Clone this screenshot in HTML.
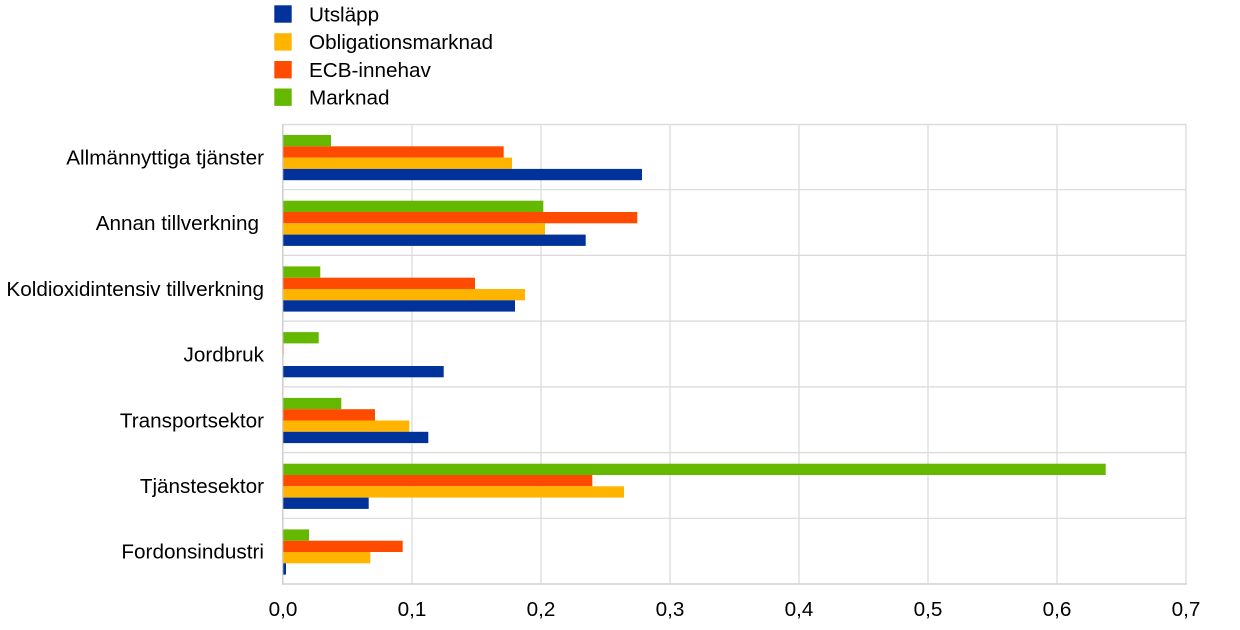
<!DOCTYPE html>
<html>
<head>
<meta charset="utf-8">
<style>
html,body{margin:0;padding:0;background:#fff;}
svg{display:block;}
text{font-family:"Liberation Sans",Arial,sans-serif;font-size:20.7px;fill:#000;}
</style>
</head>
<body>
<svg width="1240" height="630" viewBox="0 0 1240 630" xmlns="http://www.w3.org/2000/svg">
  <!-- Legend -->
  <rect x="274.3" y="5.3" width="17.4" height="17.4" fill="#003299"/>
  <text x="309" y="21.5">Utsläpp</text>
  <rect x="274.3" y="33.2" width="17.4" height="17.4" fill="#FFB400"/>
  <text x="309" y="49.2">Obligationsmarknad</text>
  <rect x="274.3" y="61" width="17.4" height="17.4" fill="#FF4B00"/>
  <text x="309" y="77">ECB-innehav</text>
  <rect x="274.3" y="88.5" width="17.4" height="17.4" fill="#65B800"/>
  <text x="309" y="104.5">Marknad</text>

  <!-- Grid -->
  <g stroke="#d9d9d9" stroke-width="1.2">
    <line x1="412" y1="124" x2="412" y2="584"/>
    <line x1="541" y1="124" x2="541" y2="584"/>
    <line x1="670" y1="124" x2="670" y2="584"/>
    <line x1="799" y1="124" x2="799" y2="584"/>
    <line x1="928" y1="124" x2="928" y2="584"/>
    <line x1="1057" y1="124" x2="1057" y2="584"/>
    <line x1="1186" y1="124" x2="1186" y2="584"/>
    <line x1="283" y1="124.5" x2="1186" y2="124.5"/>
    <line x1="283" y1="189.7" x2="1186" y2="189.7"/>
    <line x1="283" y1="255.4" x2="1186" y2="255.4"/>
    <line x1="283" y1="321.1" x2="1186" y2="321.1"/>
    <line x1="283" y1="386.9" x2="1186" y2="386.9"/>
    <line x1="283" y1="452.6" x2="1186" y2="452.6"/>
    <line x1="283" y1="518.3" x2="1186" y2="518.3"/>
  </g>
  <g stroke="#d0d0d0" stroke-width="1.6">
    <line x1="282.8" y1="124" x2="282.8" y2="584.5"/>
    <line x1="282" y1="584" x2="1187" y2="584"/>
  </g>

  <!-- Bars -->
  <g>
    <!-- Cat 1 -->
    <rect x="283.3" y="135" width="47.7" height="11.3" fill="#65B800"/>
    <rect x="283.3" y="146.3" width="220.4" height="11.3" fill="#FF4B00"/>
    <rect x="283.3" y="157.6" width="228.7" height="11.3" fill="#FFB400"/>
    <rect x="283.3" y="168.9" width="358.7" height="11.3" fill="#003299"/>
    <!-- Cat 2 -->
    <rect x="283.3" y="200.7" width="260" height="11.3" fill="#65B800"/>
    <rect x="283.3" y="212" width="354" height="11.3" fill="#FF4B00"/>
    <rect x="283.3" y="223.3" width="261.7" height="11.3" fill="#FFB400"/>
    <rect x="283.3" y="234.6" width="302.4" height="11.3" fill="#003299"/>
    <!-- Cat 3 -->
    <rect x="283.3" y="266.4" width="37" height="11.3" fill="#65B800"/>
    <rect x="283.3" y="277.7" width="191.7" height="11.3" fill="#FF4B00"/>
    <rect x="283.3" y="289" width="241.7" height="11.3" fill="#FFB400"/>
    <rect x="283.3" y="300.3" width="231.7" height="11.3" fill="#003299"/>
    <!-- Cat 4 -->
    <rect x="283.3" y="332.1" width="35.4" height="11.3" fill="#65B800"/>
    <rect x="283.3" y="343.4" width="0.8" height="11.3" fill="#FFB49a"/>
    <rect x="283.3" y="366" width="160.4" height="11.3" fill="#003299"/>
    <!-- Cat 5 -->
    <rect x="283.3" y="397.9" width="58" height="11.3" fill="#65B800"/>
    <rect x="283.3" y="409.2" width="91.7" height="11.3" fill="#FF4B00"/>
    <rect x="283.3" y="420.5" width="126" height="11.3" fill="#FFB400"/>
    <rect x="283.3" y="431.8" width="145" height="11.3" fill="#003299"/>
    <!-- Cat 6 -->
    <rect x="283.3" y="463.7" width="822.4" height="11.3" fill="#65B800"/>
    <rect x="283.3" y="475" width="309" height="11.3" fill="#FF4B00"/>
    <rect x="283.3" y="486.3" width="340.7" height="11.3" fill="#FFB400"/>
    <rect x="283.3" y="497.6" width="85.4" height="11.3" fill="#003299"/>
    <!-- Cat 7 -->
    <rect x="283.3" y="529.4" width="25.7" height="11.3" fill="#65B800"/>
    <rect x="283.3" y="540.7" width="119.4" height="11.3" fill="#FF4B00"/>
    <rect x="283.3" y="552" width="87" height="11.3" fill="#FFB400"/>
    <rect x="283.3" y="563.3" width="2.7" height="11.3" fill="#003299"/>
  </g>

  <!-- Category labels -->
  <g text-anchor="end">
    <text x="264" y="164.5">Allmännyttiga tjänster</text>
    <text x="259" y="230.2">Annan tillverkning</text>
    <text x="264" y="296">Koldioxidintensiv tillverkning</text>
    <text x="264" y="361.6">Jordbruk</text>
    <text x="264" y="427.3">Transportsektor</text>
    <text x="264" y="493">Tjänstesektor</text>
    <text x="264" y="558.7">Fordonsindustri</text>
  </g>

  <!-- X tick labels -->
  <g text-anchor="middle">
    <text x="283" y="616">0,0</text>
    <text x="412" y="616">0,1</text>
    <text x="541" y="616">0,2</text>
    <text x="670" y="616">0,3</text>
    <text x="799" y="616">0,4</text>
    <text x="928" y="616">0,5</text>
    <text x="1057" y="616">0,6</text>
    <text x="1186" y="616">0,7</text>
  </g>
</svg>
</body>
</html>
